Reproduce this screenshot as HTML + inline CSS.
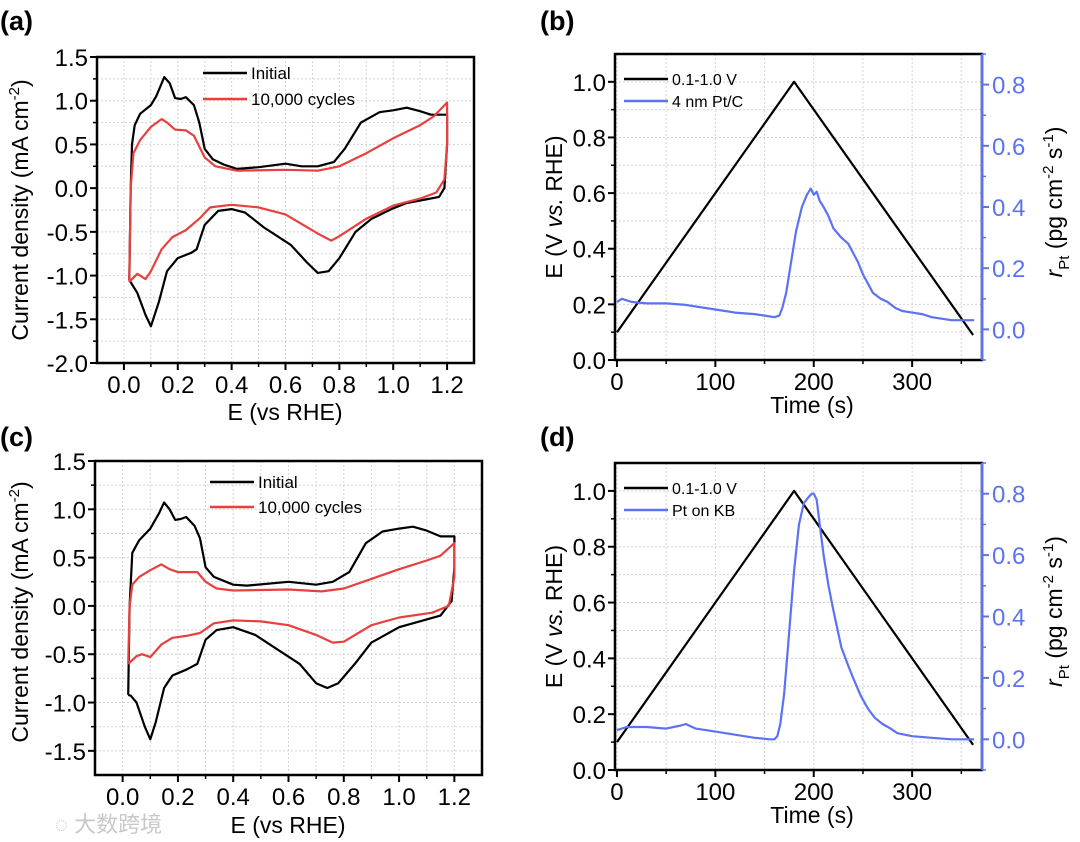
<!DOCTYPE html>
<html><head><meta charset="utf-8"><style>
body{margin:0;background:#fff}
svg{display:block;font-family:"Liberation Sans","Noto Sans CJK SC",sans-serif}
</style></head><body>
<svg id="fig" width="1080" height="842" viewBox="0 0 1080 842" xmlns="http://www.w3.org/2000/svg">
<text x="0" y="30" font-size="27" font-weight="bold">(a)</text>
<text x="540" y="30" font-size="27" font-weight="bold">(b)</text>
<text x="0" y="446" font-size="27" font-weight="bold">(c)</text>
<text x="540" y="446" font-size="27" font-weight="bold">(d)</text>
<text x="55" y="832" font-size="22" fill="#c8c8c8">◌ 大数跨境</text>
</svg>
<script>
// ---- Panel (a) data ----
const aInitX=[0.02,0.025,0.03,0.04,0.06,0.1,0.12,0.15,0.17,0.19,0.21,0.23,0.26,0.28,0.3,0.33,0.37,0.42,0.5,0.6,0.66,0.72,0.78,0.82,0.88,0.95,1.0,1.05,1.1,1.14,1.2,1.2,1.19,1.17,1.12,1.05,1.0,0.92,0.86,0.8,0.76,0.72,0.68,0.62,0.57,0.52,0.45,0.4,0.35,0.3,0.27,0.25,0.2,0.16,0.13,0.1,0.08,0.05,0.02];
const aInitY=[-1.05,0.0,0.5,0.72,0.85,0.95,1.05,1.27,1.2,1.03,1.02,1.04,0.95,0.75,0.45,0.33,0.27,0.22,0.24,0.28,0.25,0.25,0.3,0.45,0.75,0.87,0.89,0.92,0.88,0.84,0.84,0.5,0.0,-0.1,-0.13,-0.17,-0.23,-0.35,-0.5,-0.8,-0.95,-0.97,-0.85,-0.65,-0.55,-0.45,-0.28,-0.24,-0.26,-0.42,-0.7,-0.74,-0.8,-0.95,-1.3,-1.58,-1.45,-1.2,-1.05];
const aCycX=[0.02,0.025,0.035,0.06,0.1,0.14,0.16,0.19,0.23,0.26,0.3,0.34,0.42,0.6,0.72,0.8,0.9,1.0,1.1,1.15,1.2,1.2,1.19,1.16,1.1,1.0,0.9,0.8,0.77,0.72,0.6,0.5,0.4,0.32,0.28,0.23,0.18,0.14,0.1,0.08,0.05,0.02];
const aCycY=[-1.07,0.0,0.4,0.55,0.7,0.79,0.75,0.67,0.66,0.6,0.35,0.25,0.2,0.21,0.2,0.25,0.4,0.57,0.72,0.82,0.98,0.5,0.1,-0.05,-0.12,-0.2,-0.35,-0.55,-0.6,-0.52,-0.3,-0.22,-0.19,-0.22,-0.35,-0.48,-0.56,-0.7,-0.95,-1.04,-0.98,-1.07];
// ---- Panel (c) data ----
const cInitX=[0.02,0.025,0.035,0.06,0.1,0.13,0.15,0.17,0.19,0.21,0.23,0.26,0.28,0.3,0.33,0.4,0.45,0.6,0.7,0.76,0.82,0.88,0.94,1.0,1.05,1.1,1.15,1.2,1.2,1.19,1.15,1.1,1.0,0.9,0.84,0.78,0.74,0.7,0.64,0.56,0.48,0.4,0.34,0.3,0.27,0.23,0.18,0.15,0.12,0.1,0.08,0.05,0.03,0.02];
const cInitY=[-0.92,0.0,0.55,0.68,0.8,0.95,1.07,1.0,0.89,0.9,0.92,0.83,0.7,0.4,0.3,0.22,0.21,0.25,0.22,0.25,0.35,0.65,0.77,0.8,0.82,0.78,0.72,0.72,0.4,0.05,-0.1,-0.14,-0.22,-0.38,-0.6,-0.8,-0.85,-0.8,-0.6,-0.45,-0.3,-0.22,-0.25,-0.35,-0.6,-0.66,-0.72,-0.85,-1.2,-1.38,-1.25,-1.0,-0.93,-0.92];
const cCycX=[0.02,0.025,0.035,0.06,0.1,0.14,0.17,0.2,0.27,0.3,0.34,0.4,0.6,0.72,0.8,0.9,1.0,1.1,1.15,1.2,1.2,1.18,1.12,1.0,0.9,0.8,0.76,0.7,0.6,0.5,0.4,0.33,0.28,0.23,0.18,0.14,0.1,0.07,0.05,0.02];
const cCycY=[-0.6,0.0,0.22,0.3,0.37,0.43,0.38,0.35,0.35,0.25,0.18,0.16,0.17,0.15,0.18,0.28,0.38,0.47,0.52,0.65,0.3,0.0,-0.07,-0.12,-0.2,-0.37,-0.38,-0.3,-0.2,-0.16,-0.15,-0.18,-0.28,-0.31,-0.33,-0.4,-0.53,-0.5,-0.52,-0.6];
// ---- Panel (b) data ----
const triT=[0,180,362];
const triE=[0.1,1.0,0.09];
const bT=[0,5,15,30,50,70,90,100,120,140,150,160,165,168,172,177,182,188,193,197,200,203,206,210,215,220,228,235,240,245,250,255,260,268,275,283,290,300,310,320,330,340,350,363];
const bR=[0.09,0.1,0.09,0.085,0.085,0.08,0.07,0.065,0.055,0.05,0.045,0.04,0.045,0.07,0.12,0.22,0.32,0.4,0.44,0.46,0.44,0.45,0.42,0.4,0.37,0.33,0.3,0.28,0.25,0.22,0.18,0.15,0.12,0.1,0.09,0.07,0.06,0.055,0.05,0.04,0.035,0.03,0.03,0.03];
// ---- Panel (d) data ----
const dT=[0,10,30,50,65,70,80,100,120,140,155,160,163,166,170,175,180,185,190,195,198,200,203,206,210,215,220,228,235,240,248,255,262,270,278,285,300,320,340,363];
const dR=[0.03,0.04,0.04,0.035,0.045,0.05,0.035,0.025,0.015,0.005,0.0,0.0,0.01,0.05,0.15,0.35,0.55,0.7,0.77,0.79,0.8,0.8,0.78,0.7,0.6,0.5,0.42,0.3,0.24,0.2,0.14,0.1,0.07,0.05,0.035,0.02,0.01,0.005,0.0,0.0];

const NS="http://www.w3.org/2000/svg";
const svg=document.getElementById('fig');
function el(tag,attrs,parent,text){const e=document.createElementNS(NS,tag);for(const k in attrs)e.setAttribute(k,attrs[k]);if(text!==undefined)e.textContent=text;(parent||svg).appendChild(e);return e;}
function fmt(v,d){return v.toFixed(d);}

function axes(p){
  const g=el('g',{});
  
  
  const sx=v=>p.L+(v-p.x0)/(p.x1-p.x0)*(p.R-p.L);
  const sy=v=>p.B-(v-p.y0)/(p.y1-p.y0)*(p.B-p.T);
  for(let v=p.gx0;v<=p.x1+1e-9;v+=p.gxs){if(v<=p.x0+1e-9)continue;el('line',{x1:sx(v),x2:sx(v),y1:p.T,y2:p.B,stroke:'#d4d4d4','stroke-width':1,'stroke-dasharray':'2,2'},g);}
  for(let v=p.gy0;v<=p.y1+1e-9;v+=p.gys){if(v<=p.y0+1e-9)continue;el('line',{x1:p.L,x2:p.R,y1:sy(v),y2:sy(v),stroke:'#d4d4d4','stroke-width':1,'stroke-dasharray':'2,2'},g);}
  const fr=el('rect',{x:p.L,y:p.T,width:p.R-p.L,height:p.B-p.T,fill:'none',stroke:'#000','stroke-width':2.5},g);
  
  
  for(let i=0;i<p.xt.length;i++){const v=p.xt[i];const X=sx(v);
    el('line',{x1:X,x2:X,y1:p.B,y2:p.B+7,stroke:'#000','stroke-width':2},g);
    const t=el('text',{x:X,y:p.B+30,'font-size':24,'text-anchor':'middle'},g,p.xl[i]);
    
    }
  for(const v of p.xm){const X=sx(v);el('line',{x1:X,x2:X,y1:p.B,y2:p.B+4,stroke:'#000','stroke-width':1.5},g);}
  for(let i=0;i<p.yt.length;i++){const v=p.yt[i];const Y=sy(v);
    el('line',{x1:p.L-7,x2:p.L,y1:Y,y2:Y,stroke:'#000','stroke-width':2},g);
    const t=el('text',{x:p.L-9,y:Y+9,'font-size':24,'text-anchor':'end'},g,p.yl[i]);
    
    }
  for(const v of p.ym){const Y=sy(v);el('line',{x1:p.L-4,x2:p.L,y1:Y,y2:Y,stroke:'#000','stroke-width':1.5},g);}
  return {sx,sy,g};
}
function line(xs,ys,sx,sy,color,w,name){
  let d='';for(let i=0;i<xs.length;i++)d+=(i?'L':'M')+sx(xs[i]).toFixed(1)+','+sy(ys[i]).toFixed(1);
  const pth=el('path',{d:d,fill:'none',stroke:color,'stroke-width':w,'stroke-linejoin':'round'});
  
  
  return pth;
}
function legend(x,y1,y2,c1,c2,t1,t2,fs,name){
  const g=el('g',{});
  
  
  el('line',{x1:x,x2:x+44,y1:y1,y2:y1,stroke:c1,'stroke-width':2.5},g);
  el('text',{x:x+48,y:y1+6,'font-size':fs},g,t1);
  el('line',{x1:x,x2:x+44,y1:y2,y2:y2,stroke:c2,'stroke-width':2.5},g);
  el('text',{x:x+48,y:y2+6,'font-size':fs},g,t2);
}
function rot(x,y,html,name,color){
  const t=el('text',{x:0,y:0,'font-size':23,'text-anchor':'middle',transform:`translate(${x},${y}) rotate(-90)`,fill:color||'#000'});
  t.innerHTML=html;
  
  
}
function xtitle(x,y,s,name){const t=el('text',{x:x,y:y,'font-size':23,'text-anchor':'middle'},svg,s);
  
  }

const cvXt=[0,0.2,0.4,0.6,0.8,1.0,1.2], cvXl=cvXt.map(v=>fmt(v,1)), cvXm=[0.1,0.3,0.5,0.7,0.9,1.1];
{const yt=[1.5,1.0,0.5,0,-0.5,-1.0,-1.5,-2.0];
 const A=axes({name:'panel-a',L:97,R:474,T:57,B:363,x0:-0.1,x1:1.3,y0:-2,y1:1.5,gx0:0,gxs:0.1,gy0:-1.75,gys:0.25,xt:cvXt,xl:cvXl,xm:cvXm,yt:yt,yl:yt.map(v=>fmt(v,1)),ym:[1.25,0.75,0.25,-0.25,-0.75,-1.25,-1.75]});
 line(aInitX,aInitY,A.sx,A.sy,'#000',2.2,'panel-a-initial-curve');
 line(aCycX,aCycY,A.sx,A.sy,'#e8403e',2.2,'panel-a-10000-cycles-curve');
 legend(203,73,99,'#000','#e8403e','Initial','10,000 cycles',17,'panel-a-legend');
 rot(28,210,'Current density (mA cm<tspan dy="-9" font-size="15">-2</tspan><tspan dy="9">)</tspan>','panel-a-y-axis-title');
 xtitle(285,420,'E (vs RHE)','panel-a-x-axis-title');}
{const yt=[1.5,1.0,0.5,0,-0.5,-1.0,-1.5];
 const C=axes({name:'panel-c',L:95,R:482,T:461,B:775,x0:-0.1,x1:1.3,y0:-1.75,y1:1.5,gx0:0,gxs:0.1,gy0:-1.5,gys:0.25,xt:cvXt,xl:cvXl,xm:cvXm,yt:yt,yl:yt.map(v=>fmt(v,1)),ym:[1.25,0.75,0.25,-0.25,-0.75,-1.25]});
 line(cInitX,cInitY,C.sx,C.sy,'#000',2.2,'panel-c-initial-curve');
 line(cCycX,cCycY,C.sx,C.sy,'#e8403e',2.2,'panel-c-10000-cycles-curve');
 legend(210,482,507,'#000','#e8403e','Initial','10,000 cycles',17,'panel-c-legend');
 rot(28,612,'Current density (mA cm<tspan dy="-9" font-size="15">-2</tspan><tspan dy="9">)</tspan>','panel-c-y-axis-title');
 xtitle(288,833,'E (vs RHE)','panel-c-x-axis-title');}

function timePanel(nm,T,B,rT,rV,leg2,ly){
  const yt=[0,0.2,0.4,0.6,0.8,1.0];
  const P=axes({name:nm,L:615,R:982,T:T,B:B,x0:-2,x1:371,y0:0,y1:1.1,gx0:0,gxs:50,gy0:0.1,gys:0.1,xt:[0,100,200,300],xl:['0','100','200','300'],xm:[50,150,250,350],yt:yt,yl:yt.map(v=>fmt(v,1)),ym:[0.1,0.3,0.5,0.7,0.9]});
  const sr=v=>B-(v+0.1)/1.0*(B-T);
  const blue='#5c72f2';
  el('line',{x1:982,x2:982,y1:T,y2:B,stroke:blue,'stroke-width':2.5},P.g);
  const rt=[0,0.2,0.4,0.6,0.8];
  for(const v of rt){el('line',{x1:982,x2:989,y1:sr(v),y2:sr(v),stroke:blue,'stroke-width':2},P.g);
    const t=el('text',{x:992,y:sr(v)+9,'font-size':24,fill:blue},P.g,fmt(v,1));
    
    }
  for(const v of [-0.1,0.1,0.3,0.5,0.7,0.9]){el('line',{x1:982,x2:986,y1:sr(v),y2:sr(v),stroke:blue,'stroke-width':1.5},P.g);}
  line(triT,triE,P.sx,P.sy,'#000',2.2,nm+'-potential-line');
  line(rT,rV,P.sx,sr,blue,2.2,nm+'-dissolution-rate-curve');
  legend(624,ly,ly+22,'#000',blue,'0.1-1.0 V',leg2,16,nm+'-legend');
  rot(562,(T+B)/2,'E (V <tspan font-style="italic">vs.</tspan> RHE)',nm+'-left-axis-title');
  rot(1062,(T+B)/2-5,'<tspan font-style="italic">r</tspan><tspan dy="7" font-size="15">Pt</tspan><tspan dy="-7"> (pg cm</tspan><tspan dy="-9" font-size="15">-2</tspan><tspan dy="9"> s</tspan><tspan dy="-9" font-size="15">-1</tspan><tspan dy="9">)</tspan>',nm+'-right-axis-title');
  xtitle(812,B+53,'Time (s)',nm+'-x-axis-title');
}
timePanel('panel-b',54,360,bT,bR,'4 nm Pt/C',79);
timePanel('panel-d',463,770,dT,dR,'Pt on KB',488);
</script>
</body></html>
